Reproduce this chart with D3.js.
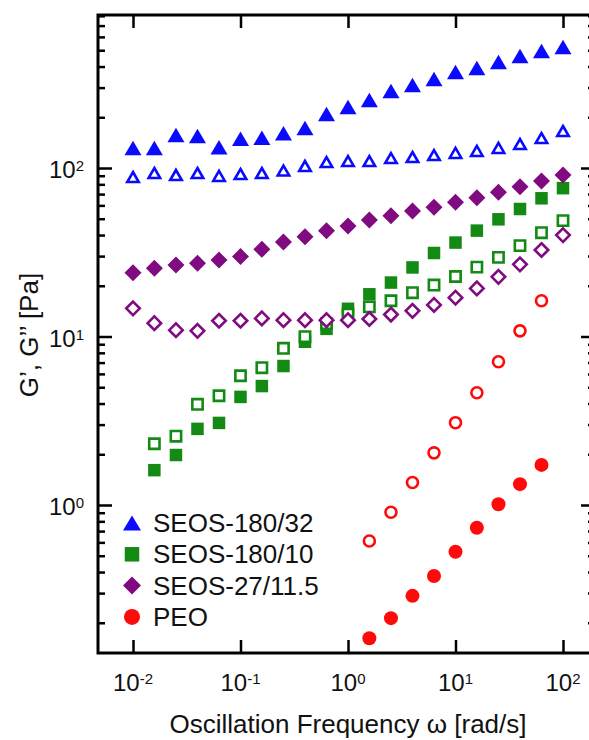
<!DOCTYPE html>
<html>
<head>
<meta charset="utf-8">
<script src="https://cdn.jsdelivr.net/npm/d3@7"></script>
<style>
  html, body { margin: 0; padding: 0; background: #fff; }
  svg { display: block; }
  text { font-family: "Liberation Sans", Arial, Helvetica, sans-serif; fill: #111; }
</style>
</head>
<body>
<svg id="chart" width="589" height="740"></svg>
<script>
// ---------------- DATA ----------------
const freq = [0.01, 0.0158, 0.0251, 0.0398, 0.0631, 0.1, 0.158, 0.251, 0.398, 0.631,
              1, 1.58, 2.51, 3.98, 6.31, 10, 15.8, 25.1, 39.8, 63.1, 100];

// SEOS-180/32 (blue triangles)
const seos180_32_Gp  = [131.5, 131.5, 157, 155, 133, 149, 151, 161, 173, 209, 230,
                        253, 286, 311, 338, 371, 392, 425, 462, 495, 522];
const seos180_32_Gpp = [88.4, 93.4, 90.9, 93.4, 89.7, 92.1, 93.4, 96.6, 102.8, 108.5, 110,
                        110, 114.6, 116.2, 119.4, 122.8, 126.2, 131.5, 138.8, 150.6, 165.8];

// SEOS-180/10 (green squares) - starts at second frequency
const freqGreen = [0.0158, 0.0251, 0.0398, 0.0631, 0.1, 0.158, 0.251, 0.398, 0.631,
                   1, 1.58, 2.51, 3.98, 6.31, 10, 15.8, 25.1, 39.8, 63.1, 100];
const seos180_10_Gp  = [1.61, 1.98, 2.83, 3.07, 4.38, 5.08, 6.68, 9.31, 11.1, 14.6,
                        17.8, 20.9, 25.7, 31.3, 36.1, 42.5, 49.6, 57.1, 66.1, 75.9];
const seos180_10_Gpp = [2.31, 2.56, 3.96, 4.45, 5.85, 6.53, 8.51, 9.97, 11.9, 13.6,
                        15.0, 16.3, 18.2, 20.2, 22.7, 25.8, 29.5, 34.6, 41.3, 48.7];

// SEOS-27/11.5 (purple diamonds)
const seos27_Gp  = [23.9, 25.4, 26.6, 27.2, 28.4, 29.8, 32.9, 36.4, 39.1, 42.4, 45.3,
                    49.1, 52.1, 55.6, 58.5, 62.6, 66.6, 71.8, 77.5, 83.7, 90.9];
const seos27_Gpp = [14.7, 12.0, 10.9, 10.8, 12.4, 12.4, 12.8, 12.5, 12.5, 12.5, 12.5,
                    12.7, 13.5, 14.2, 15.4, 17.0, 19.3, 22.6, 26.8, 32.6, 40.0];

// PEO (red circles)
const freqPEO = [1.58, 2.51, 3.98, 6.31, 10, 15.8, 25.1, 39.8, 63.1];
const peo_Gp  = [0.162, 0.213, 0.289, 0.379, 0.528, 0.733, 1.01, 1.33, 1.73];
const peo_Gpp = [0.611, 0.906, 1.36, 2.04, 3.08, 4.64, 7.08, 10.8, 16.3];

const legendLabels = ["SEOS-180/32", "SEOS-180/10", "SEOS-27/11.5", "PEO"];
const xTickExp = [-2, -1, 0, 1, 2];
const yTickExp = [0, 1, 2];
const yMinorTicks = [0.2,0.3,0.4,0.5,0.6,0.7,0.8,0.9, 2,3,4,5,6,7,8,9,
                     20,30,40,50,60,70,80,90, 200,300,400,500,600,700,800];

// ---------------- STYLE / LAYOUT ----------------
const BLUE = "#0a0aff", GREEN = "#138a13", PURPLE = "#800a80", RED = "#ff0a0a";
const frame = {left: 98, right: 595, top: 15, bottom: 653};

const svg = d3.select("#chart");

const x = d3.scaleLog().domain([1e-2, 1e2]).range([133, 563]);
const y = d3.scaleLog().domain([1, 100]).range([505, 168]);

// marker shapes
const triPath = (w, h) => `M0,${-h/2}L${w/2},${h/2}L${-w/2},${h/2}Z`;
const sqPath  = s => `M${-s/2},${-s/2}H${s/2}V${s/2}H${-s/2}Z`;
const diaPath = (w, h) => `M0,${-h/2}L${w/2},0L0,${h/2}L${-w/2},0Z`;
const circPath = r => `M${r},0A${r},${r} 0 1,1 ${-r},0A${r},${r} 0 1,1 ${r},0Z`;

// ---------------- AXES (ticks) ----------------
function styleAxis(g) {
  g.select(".domain").remove();
  g.selectAll(".tick line").attr("stroke", "#000").attr("stroke-width", 2.5);
  g.selectAll(".tick text").remove();
}
const majorY = yTickExp.map(e => Math.pow(10, e));
const majorX = xTickExp.map(e => Math.pow(10, e));

svg.append("g").attr("transform", `translate(${frame.left},0)`)
  .call(d3.axisRight(y).tickValues(yMinorTicks).tickSize(7).tickFormat("")).call(styleAxis);
svg.append("g").attr("transform", `translate(${frame.left},0)`)
  .call(d3.axisRight(y).tickValues(majorY).tickSize(14).tickFormat("")).call(styleAxis);
svg.append("g").attr("transform", `translate(${frame.right},0)`)
  .call(d3.axisLeft(y).tickValues(yMinorTicks).tickSize(7).tickFormat("")).call(styleAxis);
svg.append("g").attr("transform", `translate(${frame.right},0)`)
  .call(d3.axisLeft(y).tickValues(majorY).tickSize(14).tickFormat("")).call(styleAxis);
svg.append("g").attr("transform", `translate(0,${frame.bottom})`)
  .call(d3.axisTop(x).tickValues(majorX).tickSize(13).tickFormat("")).call(styleAxis);
svg.append("g").attr("transform", `translate(0,${frame.top})`)
  .call(d3.axisBottom(x).tickValues(majorX).tickSize(13).tickFormat("")).call(styleAxis);

svg.append("rect")
  .attr("x", frame.left).attr("y", frame.top)
  .attr("width", frame.right - frame.left).attr("height", frame.bottom - frame.top)
  .attr("fill", "none").attr("stroke", "#000").attr("stroke-width", 3);

// tick labels
xTickExp.forEach(e => {
  const t = svg.append("text")
    .attr("x", x(Math.pow(10, e))).attr("y", 691)
    .attr("text-anchor", "middle").attr("font-size", 24);
  t.append("tspan").text("10");
  t.append("tspan").attr("font-size", 15).attr("dy", -7).text(String(e));
});
yTickExp.forEach(e => {
  const t = svg.append("text")
    .attr("x", 84).attr("y", y(Math.pow(10, e)) + 10)
    .attr("text-anchor", "end").attr("font-size", 24);
  t.append("tspan").text("10");
  t.append("tspan").attr("font-size", 15).attr("dy", -7).text(String(e));
});

// axis titles
svg.append("text")
  .attr("x", 348).attr("y", 733).attr("text-anchor", "middle").attr("font-size", 26)
  .text("Oscillation Frequency \u03c9 [rad/s]");
svg.append("text")
  .attr("transform", "translate(38,335) rotate(-90)")
  .attr("text-anchor", "middle").attr("font-size", 26)
  .text("G\u2019, G\u2019\u2019 [Pa]");

// ---------------- DATA MARKS ----------------
function plot(xs, ys, path, fill, stroke, sw) {
  svg.append("g").selectAll("path")
    .data(xs.map((f, i) => [f, ys[i]]))
    .join("path")
    .attr("transform", d => `translate(${x(d[0])},${y(d[1])})`)
    .attr("d", path)
    .attr("fill", fill)
    .attr("stroke", stroke)
    .attr("stroke-width", sw)
    .attr("stroke-linejoin", "miter");
}

plot(freq, seos180_32_Gp, triPath(17, 14.5), BLUE, "none", 0);
plot(freq, seos180_32_Gpp, triPath(11.5, 10), "#fff", BLUE, 2.6);
plot(freqGreen, seos180_10_Gp, sqPath(12.5), GREEN, "none", 0);
plot(freqGreen, seos180_10_Gpp, sqPath(10.3), "#fff", GREEN, 2.6);
plot(freq, seos27_Gp, diaPath(17, 17), PURPLE, "none", 0);
plot(freq, seos27_Gpp, diaPath(13.5, 13.5), "#fff", PURPLE, 2.6);
plot(freqPEO, peo_Gp, circPath(7), RED, "none", 0);
plot(freqPEO, peo_Gpp, circPath(5.5), "#fff", RED, 2.6);

// ---------------- LEGEND ----------------
const legendPaths = [triPath(18, 15), sqPath(14.5), diaPath(18, 18), circPath(8)];
const legendColors = [BLUE, GREEN, PURPLE, RED];
const leg = svg.append("g");
legendLabels.forEach((lab, i) => {
  const cy = 523 + i * 31.3;
  leg.append("path").attr("transform", `translate(132,${cy})`)
    .attr("d", legendPaths[i]).attr("fill", legendColors[i]);
  leg.append("text").attr("x", 153).attr("y", cy + 9)
    .attr("font-size", 26).text(lab);
});
</script>
</body>
</html>
